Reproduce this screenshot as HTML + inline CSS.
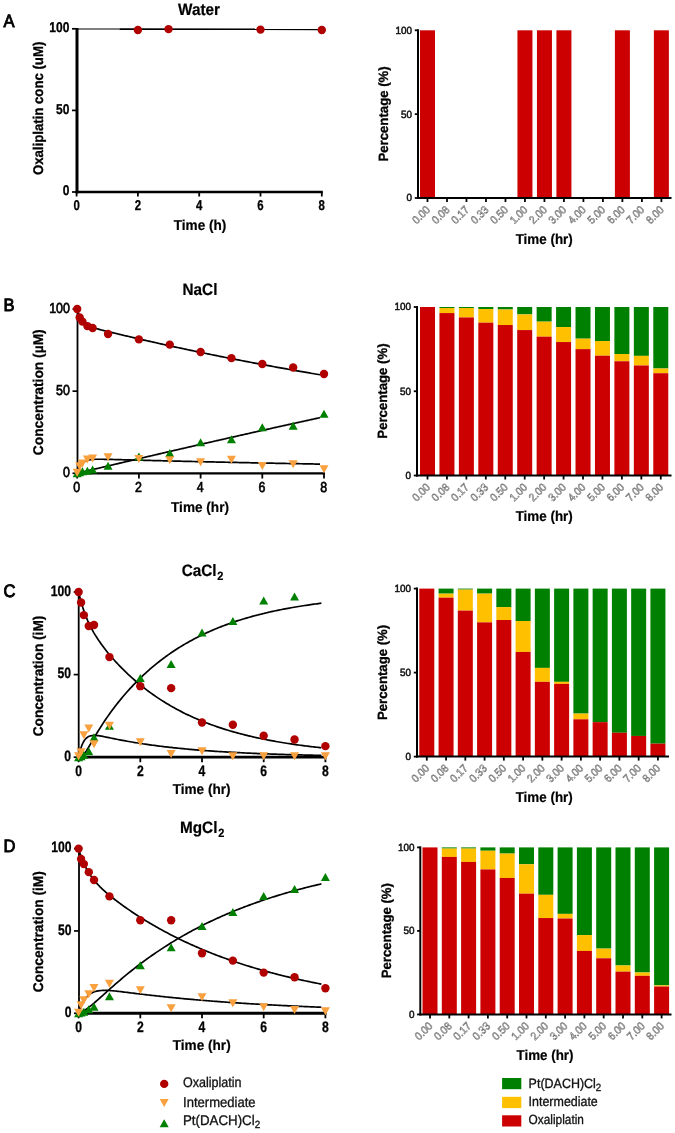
<!DOCTYPE html>
<html><head><meta charset="utf-8"><title>Oxaliplatin kinetics</title>
<style>
html,body{margin:0;padding:0;background:#fff;}
body{width:675px;height:1133px;overflow:hidden;}
svg{display:block;font-family:"Liberation Sans", sans-serif;will-change:transform;text-rendering:geometricPrecision;}
</style></head>
<body>
<svg width="675" height="1133" viewBox="0 0 675 1133">
<rect width="675" height="1133" fill="#fff"/>
<line x1="77" y1="28" x2="77" y2="193.3" stroke="#000" stroke-width="3"/>
<line x1="72" y1="192" x2="77" y2="192" stroke="#000" stroke-width="1.7"/>
<text transform="translate(69.4 195.4) scale(1 1.18)" font-size="12" font-weight="bold" text-anchor="end" fill="#000" stroke="#000" stroke-width="0.25">0</text>
<line x1="72" y1="110.4" x2="77" y2="110.4" stroke="#000" stroke-width="1.7"/>
<text transform="translate(69.4 113.8) scale(1 1.18)" font-size="12" font-weight="bold" text-anchor="end" fill="#000" stroke="#000" stroke-width="0.25">50</text>
<line x1="72" y1="28.8" x2="77" y2="28.8" stroke="#000" stroke-width="1.7"/>
<text transform="translate(69.4 32.2) scale(1 1.18)" font-size="12" font-weight="bold" text-anchor="end" fill="#000" stroke="#000" stroke-width="0.25">100</text>
<line x1="75.5" y1="192" x2="322.8" y2="192" stroke="#000" stroke-width="2.6"/>
<line x1="76.6" y1="192" x2="76.6" y2="196.5" stroke="#000" stroke-width="1.8"/>
<text transform="translate(76.6 209.9) scale(0.95 1.18)" font-size="12" font-weight="bold" text-anchor="middle" fill="#000" stroke="#000" stroke-width="0.25">0</text>
<line x1="137.9" y1="192" x2="137.9" y2="196.5" stroke="#000" stroke-width="1.8"/>
<text transform="translate(137.9 209.9) scale(0.95 1.18)" font-size="12" font-weight="bold" text-anchor="middle" fill="#000" stroke="#000" stroke-width="0.25">2</text>
<line x1="199.2" y1="192" x2="199.2" y2="196.5" stroke="#000" stroke-width="1.8"/>
<text transform="translate(199.2 209.9) scale(0.95 1.18)" font-size="12" font-weight="bold" text-anchor="middle" fill="#000" stroke="#000" stroke-width="0.25">4</text>
<line x1="260.5" y1="192" x2="260.5" y2="196.5" stroke="#000" stroke-width="1.8"/>
<text transform="translate(260.5 209.9) scale(0.95 1.18)" font-size="12" font-weight="bold" text-anchor="middle" fill="#000" stroke="#000" stroke-width="0.25">6</text>
<line x1="321.8" y1="192" x2="321.8" y2="196.5" stroke="#000" stroke-width="1.8"/>
<text transform="translate(321.8 209.9) scale(0.95 1.18)" font-size="12" font-weight="bold" text-anchor="middle" fill="#000" stroke="#000" stroke-width="0.25">8</text>
<text transform="translate(200.1 229.6) scale(1.015 1.07)" font-size="13.4" font-weight="bold" text-anchor="middle" fill="#000" stroke="#000" stroke-width="0.2">Time (h)</text>
<text transform="translate(43.2 108.4) rotate(-90) scale(0.985 1.05)" font-size="13.4" font-weight="bold" text-anchor="middle" fill="#000" stroke="#000" stroke-width="0.3">Oxaliplatin conc (uM)</text>
<text transform="translate(199 15) scale(1.02 1.1)" font-size="15" font-weight="bold" text-anchor="middle" fill="#000" stroke="#000" stroke-width="0.2">Water</text>
<text transform="translate(3.6 27.4) scale(0.94 1.02)" font-size="17.6" font-weight="normal" text-anchor="start" fill="#000" stroke="#000" stroke-width="0.9">A</text>
<line x1="77.6" y1="29" x2="119.51" y2="29" stroke="#000" stroke-width="1.0"/>
<line x1="119.51" y1="29.1" x2="321.8" y2="29.4" stroke="#000" stroke-width="1.6"/>
<circle cx="137.9" cy="29.94" r="4.2" fill="#B00000"/>
<circle cx="168.55" cy="29.13" r="4.2" fill="#B00000"/>
<circle cx="260.5" cy="29.62" r="4.2" fill="#B00000"/>
<circle cx="321.8" cy="29.94" r="4.2" fill="#B00000"/>
<line x1="77.5" y1="308.2" x2="77.5" y2="474.4" stroke="#000" stroke-width="1.8"/>
<line x1="72.5" y1="473.3" x2="77.5" y2="473.3" stroke="#000" stroke-width="1.7"/>
<text transform="translate(69.9 477.3) scale(1 1.16)" font-size="12.4" font-weight="normal" text-anchor="end" fill="#000" stroke="#000" stroke-width="0.6">0</text>
<line x1="72.5" y1="391.15" x2="77.5" y2="391.15" stroke="#000" stroke-width="1.7"/>
<text transform="translate(69.9 395.15) scale(1 1.16)" font-size="12.4" font-weight="normal" text-anchor="end" fill="#000" stroke="#000" stroke-width="0.6">50</text>
<line x1="72.5" y1="309" x2="77.5" y2="309" stroke="#000" stroke-width="1.7"/>
<text transform="translate(69.9 313) scale(1 1.16)" font-size="12.4" font-weight="normal" text-anchor="end" fill="#000" stroke="#000" stroke-width="0.6">100</text>
<line x1="76.6" y1="473.3" x2="325" y2="473.3" stroke="#000" stroke-width="2.2"/>
<line x1="77.2" y1="473.3" x2="77.2" y2="478.5" stroke="#000" stroke-width="1.8"/>
<text transform="translate(76.8 491.8) scale(1 1.16)" font-size="12.4" font-weight="normal" text-anchor="middle" fill="#000" stroke="#000" stroke-width="0.6">0</text>
<line x1="138.9" y1="473.3" x2="138.9" y2="478.5" stroke="#000" stroke-width="1.8"/>
<text transform="translate(138.5 491.8) scale(1 1.16)" font-size="12.4" font-weight="normal" text-anchor="middle" fill="#000" stroke="#000" stroke-width="0.6">2</text>
<line x1="200.6" y1="473.3" x2="200.6" y2="478.5" stroke="#000" stroke-width="1.8"/>
<text transform="translate(200.2 491.8) scale(1 1.16)" font-size="12.4" font-weight="normal" text-anchor="middle" fill="#000" stroke="#000" stroke-width="0.6">4</text>
<line x1="262.3" y1="473.3" x2="262.3" y2="478.5" stroke="#000" stroke-width="1.8"/>
<text transform="translate(261.9 491.8) scale(1 1.16)" font-size="12.4" font-weight="normal" text-anchor="middle" fill="#000" stroke="#000" stroke-width="0.6">6</text>
<line x1="324" y1="473.3" x2="324" y2="478.5" stroke="#000" stroke-width="1.8"/>
<text transform="translate(323.6 491.8) scale(1 1.16)" font-size="12.4" font-weight="normal" text-anchor="middle" fill="#000" stroke="#000" stroke-width="0.6">8</text>
<text transform="translate(200 511.7) scale(1.015 1.07)" font-size="13.4" font-weight="bold" text-anchor="middle" fill="#000" stroke="#000" stroke-width="0.2">Time (hr)</text>
<text transform="translate(43.2 392.25) rotate(-90) scale(1.03 1.05)" font-size="13.4" font-weight="bold" text-anchor="middle" fill="#000" stroke="#000" stroke-width="0.3">Concentration (&#181;M)</text>
<text transform="translate(200 295.2) scale(1.02 1.1)" font-size="15" font-weight="bold" text-anchor="middle" fill="#000" stroke="#000" stroke-width="0.2">NaCl</text>
<text transform="translate(3.6 311) scale(0.94 1.02)" font-size="17.6" font-weight="normal" text-anchor="start" fill="#000" stroke="#000" stroke-width="0.9">B</text>
<path d="M77.2 309 L78.72 314.15 L80.23 317.77 L81.75 320.36 L83.27 322.24 L84.79 323.65 L86.3 324.72 L87.82 325.58 L89.34 326.28 L90.86 326.88 L92.37 327.41 L93.89 327.89 L95.41 328.33 L96.93 328.76 L98.44 329.16 L99.96 329.56 L101.48 329.95 L103 330.33 L104.51 330.71 L106.03 331.08 L107.55 331.46 L109.07 331.83 L110.58 332.2 L112.1 332.56 L113.62 332.93 L115.14 333.29 L116.65 333.66 L118.17 334.02 L119.69 334.38 L121.21 334.75 L122.72 335.11 L124.24 335.46 L125.76 335.82 L127.28 336.18 L128.79 336.54 L130.31 336.89 L131.83 337.25 L133.35 337.6 L134.86 337.95 L136.38 338.3 L137.9 338.65 L139.41 339 L140.93 339.35 L142.45 339.7 L143.97 340.05 L145.48 340.4 L147 340.74 L148.52 341.09 L150.04 341.43 L151.55 341.77 L153.07 342.11 L154.59 342.45 L156.11 342.79 L157.62 343.13 L159.14 343.47 L160.66 343.81 L162.18 344.15 L163.69 344.48 L165.21 344.82 L166.73 345.15 L168.25 345.48 L169.76 345.81 L171.28 346.15 L172.8 346.48 L174.32 346.81 L175.83 347.13 L177.35 347.46 L178.87 347.79 L180.39 348.12 L181.9 348.44 L183.42 348.77 L184.94 349.09 L186.46 349.41 L187.97 349.73 L189.49 350.05 L191.01 350.38 L192.53 350.69 L194.04 351.01 L195.56 351.33 L197.08 351.65 L198.59 351.96 L200.11 352.28 L201.63 352.59 L203.15 352.91 L204.66 353.22 L206.18 353.53 L207.7 353.84 L209.22 354.15 L210.73 354.46 L212.25 354.77 L213.77 355.08 L215.29 355.39 L216.8 355.69 L218.32 356 L219.84 356.3 L221.36 356.61 L222.87 356.91 L224.39 357.21 L225.91 357.52 L227.43 357.82 L228.94 358.12 L230.46 358.42 L231.98 358.71 L233.5 359.01 L235.01 359.31 L236.53 359.61 L238.05 359.9 L239.57 360.2 L241.08 360.49 L242.6 360.78 L244.12 361.08 L245.64 361.37 L247.15 361.66 L248.67 361.95 L250.19 362.24 L251.7 362.53 L253.22 362.81 L254.74 363.1 L256.26 363.39 L257.77 363.67 L259.29 363.96 L260.81 364.24 L262.33 364.53 L263.84 364.81 L265.36 365.09 L266.88 365.37 L268.4 365.65 L269.91 365.93 L271.43 366.21 L272.95 366.49 L274.47 366.77 L275.98 367.04 L277.5 367.32 L279.02 367.59 L280.54 367.87 L282.05 368.14 L283.57 368.42 L285.09 368.69 L286.61 368.96 L288.12 369.23 L289.64 369.5 L291.16 369.77 L292.68 370.04 L294.19 370.31 L295.71 370.58 L297.23 370.84 L298.75 371.11 L300.26 371.38 L301.78 371.64 L303.3 371.91 L304.82 372.17 L306.33 372.43 L307.85 372.69 L309.37 372.95 L310.88 373.22 L312.4 373.48 L313.92 373.74 L315.44 373.99 L316.95 374.25 L318.47 374.51 L319.99 374.77" fill="none" stroke="#000" stroke-width="1.7" stroke-linejoin="round"/>
<path d="M77.2 473.3 L78.72 469.15 L80.23 466.18 L81.75 464.07 L83.27 462.57 L84.79 461.5 L86.3 460.75 L87.82 460.23 L89.34 459.86 L90.86 459.61 L92.37 459.45 L93.89 459.34 L95.41 459.27 L96.93 459.24 L98.44 459.23 L99.96 459.23 L101.48 459.24 L103 459.27 L104.51 459.29 L106.03 459.32 L107.55 459.36 L109.07 459.39 L110.58 459.43 L112.1 459.47 L113.62 459.51 L115.14 459.55 L116.65 459.59 L118.17 459.63 L119.69 459.67 L121.21 459.71 L122.72 459.75 L124.24 459.79 L125.76 459.83 L127.28 459.87 L128.79 459.91 L130.31 459.95 L131.83 459.99 L133.35 460.03 L134.86 460.07 L136.38 460.11 L137.9 460.15 L139.41 460.19 L140.93 460.23 L142.45 460.27 L143.97 460.3 L145.48 460.34 L147 460.38 L148.52 460.42 L150.04 460.46 L151.55 460.5 L153.07 460.54 L154.59 460.57 L156.11 460.61 L157.62 460.65 L159.14 460.69 L160.66 460.72 L162.18 460.76 L163.69 460.8 L165.21 460.84 L166.73 460.87 L168.25 460.91 L169.76 460.95 L171.28 460.98 L172.8 461.02 L174.32 461.06 L175.83 461.09 L177.35 461.13 L178.87 461.17 L180.39 461.2 L181.9 461.24 L183.42 461.28 L184.94 461.31 L186.46 461.35 L187.97 461.38 L189.49 461.42 L191.01 461.45 L192.53 461.49 L194.04 461.52 L195.56 461.56 L197.08 461.59 L198.59 461.63 L200.11 461.66 L201.63 461.7 L203.15 461.73 L204.66 461.77 L206.18 461.8 L207.7 461.84 L209.22 461.87 L210.73 461.9 L212.25 461.94 L213.77 461.97 L215.29 462.01 L216.8 462.04 L218.32 462.07 L219.84 462.11 L221.36 462.14 L222.87 462.17 L224.39 462.21 L225.91 462.24 L227.43 462.27 L228.94 462.31 L230.46 462.34 L231.98 462.37 L233.5 462.4 L235.01 462.44 L236.53 462.47 L238.05 462.5 L239.57 462.53 L241.08 462.56 L242.6 462.6 L244.12 462.63 L245.64 462.66 L247.15 462.69 L248.67 462.72 L250.19 462.76 L251.7 462.79 L253.22 462.82 L254.74 462.85 L256.26 462.88 L257.77 462.91 L259.29 462.94 L260.81 462.97 L262.33 463 L263.84 463.04 L265.36 463.07 L266.88 463.1 L268.4 463.13 L269.91 463.16 L271.43 463.19 L272.95 463.22 L274.47 463.25 L275.98 463.28 L277.5 463.31 L279.02 463.34 L280.54 463.37 L282.05 463.4 L283.57 463.43 L285.09 463.46 L286.61 463.48 L288.12 463.51 L289.64 463.54 L291.16 463.57 L292.68 463.6 L294.19 463.63 L295.71 463.66 L297.23 463.69 L298.75 463.72 L300.26 463.74 L301.78 463.77 L303.3 463.8 L304.82 463.83 L306.33 463.86 L307.85 463.89 L309.37 463.91 L310.88 463.94 L312.4 463.97 L313.92 464 L315.44 464.03 L316.95 464.05 L318.47 464.08 L319.99 464.11" fill="none" stroke="#000" stroke-width="1.7" stroke-linejoin="round"/>
<path d="M77.2 473.3 L78.72 472.94 L80.23 472.57 L81.75 472.21 L83.27 471.85 L84.79 471.48 L86.3 471.12 L87.82 470.76 L89.34 470.4 L90.86 470.04 L92.37 469.67 L93.89 469.31 L95.41 468.95 L96.93 468.59 L98.44 468.23 L99.96 467.87 L101.48 467.51 L103 467.15 L104.51 466.79 L106.03 466.43 L107.55 466.07 L109.07 465.71 L110.58 465.35 L112.1 464.99 L113.62 464.63 L115.14 464.27 L116.65 463.91 L118.17 463.55 L119.69 463.2 L121.21 462.84 L122.72 462.48 L124.24 462.12 L125.76 461.76 L127.28 461.41 L128.79 461.05 L130.31 460.69 L131.83 460.34 L133.35 459.98 L134.86 459.62 L136.38 459.27 L137.9 458.91 L139.41 458.56 L140.93 458.2 L142.45 457.85 L143.97 457.49 L145.48 457.14 L147 456.78 L148.52 456.43 L150.04 456.07 L151.55 455.72 L153.07 455.37 L154.59 455.01 L156.11 454.66 L157.62 454.3 L159.14 453.95 L160.66 453.6 L162.18 453.25 L163.69 452.89 L165.21 452.54 L166.73 452.19 L168.25 451.84 L169.76 451.49 L171.28 451.13 L172.8 450.78 L174.32 450.43 L175.83 450.08 L177.35 449.73 L178.87 449.38 L180.39 449.03 L181.9 448.68 L183.42 448.33 L184.94 447.98 L186.46 447.63 L187.97 447.28 L189.49 446.93 L191.01 446.58 L192.53 446.24 L194.04 445.89 L195.56 445.54 L197.08 445.19 L198.59 444.84 L200.11 444.49 L201.63 444.15 L203.15 443.8 L204.66 443.45 L206.18 443.11 L207.7 442.76 L209.22 442.41 L210.73 442.07 L212.25 441.72 L213.77 441.37 L215.29 441.03 L216.8 440.68 L218.32 440.34 L219.84 439.99 L221.36 439.65 L222.87 439.3 L224.39 438.96 L225.91 438.61 L227.43 438.27 L228.94 437.93 L230.46 437.58 L231.98 437.24 L233.5 436.9 L235.01 436.55 L236.53 436.21 L238.05 435.87 L239.57 435.53 L241.08 435.18 L242.6 434.84 L244.12 434.5 L245.64 434.16 L247.15 433.82 L248.67 433.47 L250.19 433.13 L251.7 432.79 L253.22 432.45 L254.74 432.11 L256.26 431.77 L257.77 431.43 L259.29 431.09 L260.81 430.75 L262.33 430.41 L263.84 430.07 L265.36 429.73 L266.88 429.39 L268.4 429.06 L269.91 428.72 L271.43 428.38 L272.95 428.04 L274.47 427.7 L275.98 427.36 L277.5 427.03 L279.02 426.69 L280.54 426.35 L282.05 426.02 L283.57 425.68 L285.09 425.34 L286.61 425.01 L288.12 424.67 L289.64 424.33 L291.16 424 L292.68 423.66 L294.19 423.33 L295.71 422.99 L297.23 422.66 L298.75 422.32 L300.26 421.99 L301.78 421.65 L303.3 421.32 L304.82 420.99 L306.33 420.65 L307.85 420.32 L309.37 419.99 L310.88 419.65 L312.4 419.32 L313.92 418.99 L315.44 418.65 L316.95 418.32 L318.47 417.99 L319.99 417.66" fill="none" stroke="#000" stroke-width="1.7" stroke-linejoin="round"/>
<path d="M77.2 469.3L81.7 477.3L72.7 477.3Z" fill="#008000"/>
<path d="M79.67 468.31L84.17 476.31L75.17 476.31Z" fill="#008000"/>
<path d="M82.44 467.33L86.94 475.33L77.94 475.33Z" fill="#008000"/>
<path d="M87.38 466.67L91.88 474.67L82.88 474.67Z" fill="#008000"/>
<path d="M92.62 465.52L97.12 473.52L88.12 473.52Z" fill="#008000"/>
<path d="M108.05 461.74L112.55 469.74L103.55 469.74Z" fill="#008000"/>
<path d="M138.9 452.54L143.4 460.54L134.4 460.54Z" fill="#008000"/>
<path d="M169.75 448.93L174.25 456.93L165.25 456.93Z" fill="#008000"/>
<path d="M200.6 438.25L205.1 446.25L196.1 446.25Z" fill="#008000"/>
<path d="M231.45 435.29L235.95 443.29L226.95 443.29Z" fill="#008000"/>
<path d="M262.3 423.3L266.8 431.3L257.8 431.3Z" fill="#008000"/>
<path d="M293.15 421.82L297.65 429.82L288.65 429.82Z" fill="#008000"/>
<path d="M324 409.82L328.5 417.82L319.5 417.82Z" fill="#008000"/>
<path d="M72.7 468.81L81.7 468.81L77.2 476.81Z" fill="#F9A03F"/>
<path d="M75.17 462.24L84.17 462.24L79.67 470.24Z" fill="#F9A03F"/>
<path d="M77.94 459.44L86.94 459.44L82.44 467.44Z" fill="#F9A03F"/>
<path d="M82.88 455.5L91.88 455.5L87.38 463.5Z" fill="#F9A03F"/>
<path d="M88.12 454.51L97.12 454.51L92.62 462.51Z" fill="#F9A03F"/>
<path d="M103.55 453.2L112.55 453.2L108.05 461.2Z" fill="#F9A03F"/>
<path d="M134.4 455.01L143.4 455.01L138.9 463.01Z" fill="#F9A03F"/>
<path d="M165.25 456.32L174.25 456.32L169.75 464.32Z" fill="#F9A03F"/>
<path d="M196.1 458.29L205.1 458.29L200.6 466.29Z" fill="#F9A03F"/>
<path d="M226.95 455.66L235.95 455.66L231.45 463.66Z" fill="#F9A03F"/>
<path d="M257.8 461.91L266.8 461.91L262.3 469.91Z" fill="#F9A03F"/>
<path d="M288.65 460.26L297.65 460.26L293.15 468.26Z" fill="#F9A03F"/>
<path d="M319.5 465.36L328.5 465.36L324 473.36Z" fill="#F9A03F"/>
<circle cx="77.2" cy="309" r="4.2" fill="#B00000"/>
<circle cx="79.67" cy="317.54" r="4.2" fill="#B00000"/>
<circle cx="82.44" cy="321.65" r="4.2" fill="#B00000"/>
<circle cx="87.38" cy="326.09" r="4.2" fill="#B00000"/>
<circle cx="92.62" cy="328.06" r="4.2" fill="#B00000"/>
<circle cx="108.05" cy="333.97" r="4.2" fill="#B00000"/>
<circle cx="138.9" cy="339.4" r="4.2" fill="#B00000"/>
<circle cx="169.75" cy="344.65" r="4.2" fill="#B00000"/>
<circle cx="200.6" cy="352.05" r="4.2" fill="#B00000"/>
<circle cx="231.45" cy="358.13" r="4.2" fill="#B00000"/>
<circle cx="262.3" cy="364.04" r="4.2" fill="#B00000"/>
<circle cx="293.15" cy="367.49" r="4.2" fill="#B00000"/>
<circle cx="324" cy="374.06" r="4.2" fill="#B00000"/>
<line x1="78.7" y1="591.2" x2="78.7" y2="758.6" stroke="#000" stroke-width="1.8"/>
<line x1="73.7" y1="757.2" x2="78.7" y2="757.2" stroke="#000" stroke-width="1.7"/>
<text transform="translate(71.1 761) scale(0.98 1.22)" font-size="12.4" font-weight="bold" text-anchor="end" fill="#000" stroke="#000" stroke-width="0.25">0</text>
<line x1="73.7" y1="674.6" x2="78.7" y2="674.6" stroke="#000" stroke-width="1.7"/>
<text transform="translate(71.1 678.4) scale(0.98 1.22)" font-size="12.4" font-weight="bold" text-anchor="end" fill="#000" stroke="#000" stroke-width="0.25">50</text>
<line x1="73.7" y1="592" x2="78.7" y2="592" stroke="#000" stroke-width="1.7"/>
<text transform="translate(71.1 595.8) scale(0.98 1.22)" font-size="12.4" font-weight="bold" text-anchor="end" fill="#000" stroke="#000" stroke-width="0.25">100</text>
<line x1="77.8" y1="757.2" x2="326.4" y2="757.2" stroke="#000" stroke-width="2.8"/>
<line x1="78.6" y1="757.2" x2="78.6" y2="762.2" stroke="#000" stroke-width="1.8"/>
<text transform="translate(78.6 775.6) scale(0.98 1.22)" font-size="12.4" font-weight="bold" text-anchor="middle" fill="#000" stroke="#000" stroke-width="0.25">0</text>
<line x1="140.3" y1="757.2" x2="140.3" y2="762.2" stroke="#000" stroke-width="1.8"/>
<text transform="translate(140.3 775.6) scale(0.98 1.22)" font-size="12.4" font-weight="bold" text-anchor="middle" fill="#000" stroke="#000" stroke-width="0.25">2</text>
<line x1="202" y1="757.2" x2="202" y2="762.2" stroke="#000" stroke-width="1.8"/>
<text transform="translate(202 775.6) scale(0.98 1.22)" font-size="12.4" font-weight="bold" text-anchor="middle" fill="#000" stroke="#000" stroke-width="0.25">4</text>
<line x1="263.7" y1="757.2" x2="263.7" y2="762.2" stroke="#000" stroke-width="1.8"/>
<text transform="translate(263.7 775.6) scale(0.98 1.22)" font-size="12.4" font-weight="bold" text-anchor="middle" fill="#000" stroke="#000" stroke-width="0.25">6</text>
<line x1="325.4" y1="757.2" x2="325.4" y2="762.2" stroke="#000" stroke-width="1.8"/>
<text transform="translate(325.4 775.6) scale(0.98 1.22)" font-size="12.4" font-weight="bold" text-anchor="middle" fill="#000" stroke="#000" stroke-width="0.25">8</text>
<text transform="translate(201.6 794.4) scale(1.015 1.07)" font-size="13.4" font-weight="bold" text-anchor="middle" fill="#000" stroke="#000" stroke-width="0.2">Time (hr)</text>
<text transform="translate(43.2 676) rotate(-90) scale(1.02 1.05)" font-size="13.4" font-weight="bold" text-anchor="middle" fill="#000" stroke="#000" stroke-width="0.3">Concentration (iM)</text>
<text transform="translate(202.6 576.2) scale(1.02 1.1)" font-size="15" font-weight="bold" text-anchor="middle" fill="#000" stroke="#000" stroke-width="0.2">CaCl<tspan font-size="10.8" dx="0.8" dy="3.6">2</tspan></text>
<text transform="translate(3.6 597.1) scale(0.94 1.02)" font-size="17.6" font-weight="normal" text-anchor="start" fill="#000" stroke="#000" stroke-width="0.9">C</text>
<path d="M78.6 592 L80.12 598.25 L81.63 603.75 L83.15 608.64 L84.67 613.02 L86.19 616.98 L87.7 620.6 L89.22 623.92 L90.74 627 L92.26 629.87 L93.77 632.57 L95.29 635.13 L96.81 637.56 L98.33 639.88 L99.84 642.1 L101.36 644.25 L102.88 646.32 L104.4 648.33 L105.91 650.27 L107.43 652.17 L108.95 654.02 L110.47 655.82 L111.98 657.58 L113.5 659.31 L115.02 661 L116.54 662.65 L118.05 664.27 L119.57 665.86 L121.09 667.42 L122.61 668.95 L124.12 670.45 L125.64 671.93 L127.16 673.38 L128.68 674.8 L130.19 676.2 L131.71 677.57 L133.23 678.92 L134.75 680.25 L136.26 681.55 L137.78 682.84 L139.3 684.1 L140.81 685.33 L142.33 686.55 L143.85 687.75 L145.37 688.92 L146.88 690.08 L148.4 691.21 L149.92 692.33 L151.44 693.43 L152.95 694.51 L154.47 695.57 L155.99 696.61 L157.51 697.64 L159.02 698.65 L160.54 699.64 L162.06 700.61 L163.58 701.57 L165.09 702.51 L166.61 703.44 L168.13 704.35 L169.65 705.24 L171.16 706.12 L172.68 706.98 L174.2 707.83 L175.72 708.67 L177.23 709.49 L178.75 710.3 L180.27 711.09 L181.79 711.87 L183.3 712.64 L184.82 713.39 L186.34 714.14 L187.86 714.86 L189.37 715.58 L190.89 716.28 L192.41 716.98 L193.93 717.66 L195.44 718.33 L196.96 718.98 L198.48 719.63 L199.99 720.27 L201.51 720.89 L203.03 721.51 L204.55 722.11 L206.06 722.7 L207.58 723.29 L209.1 723.86 L210.62 724.43 L212.13 724.98 L213.65 725.53 L215.17 726.06 L216.69 726.59 L218.2 727.11 L219.72 727.62 L221.24 728.12 L222.76 728.61 L224.27 729.09 L225.79 729.57 L227.31 730.04 L228.83 730.5 L230.34 730.95 L231.86 731.39 L233.38 731.83 L234.9 732.26 L236.41 732.68 L237.93 733.1 L239.45 733.5 L240.97 733.9 L242.48 734.3 L244 734.69 L245.52 735.07 L247.04 735.44 L248.55 735.81 L250.07 736.17 L251.59 736.53 L253.1 736.88 L254.62 737.22 L256.14 737.56 L257.66 737.89 L259.17 738.22 L260.69 738.54 L262.21 738.86 L263.73 739.17 L265.24 739.47 L266.76 739.77 L268.28 740.07 L269.8 740.36 L271.31 740.64 L272.83 740.92 L274.35 741.2 L275.87 741.47 L277.38 741.73 L278.9 742 L280.42 742.25 L281.94 742.51 L283.45 742.75 L284.97 743 L286.49 743.24 L288.01 743.48 L289.52 743.71 L291.04 743.94 L292.56 744.16 L294.08 744.38 L295.59 744.6 L297.11 744.81 L298.63 745.02 L300.15 745.23 L301.66 745.43 L303.18 745.63 L304.7 745.83 L306.22 746.02 L307.73 746.21 L309.25 746.39 L310.77 746.58 L312.28 746.76 L313.8 746.93 L315.32 747.11 L316.84 747.28 L318.35 747.44 L319.87 747.61 L321.39 747.77" fill="none" stroke="#000" stroke-width="1.7" stroke-linejoin="round"/>
<path d="M78.6 757.2 L80.12 750.69 L81.63 745.94 L83.15 742.49 L84.67 740.02 L86.19 738.28 L87.7 737.09 L89.22 736.29 L90.74 735.8 L92.26 735.53 L93.77 735.42 L95.29 735.44 L96.81 735.54 L98.33 735.71 L99.84 735.93 L101.36 736.18 L102.88 736.46 L104.4 736.75 L105.91 737.05 L107.43 737.35 L108.95 737.67 L110.47 737.98 L111.98 738.29 L113.5 738.6 L115.02 738.91 L116.54 739.21 L118.05 739.51 L119.57 739.81 L121.09 740.1 L122.61 740.39 L124.12 740.67 L125.64 740.95 L127.16 741.23 L128.68 741.5 L130.19 741.76 L131.71 742.03 L133.23 742.28 L134.75 742.54 L136.26 742.78 L137.78 743.03 L139.3 743.27 L140.81 743.51 L142.33 743.74 L143.85 743.97 L145.37 744.19 L146.88 744.41 L148.4 744.63 L149.92 744.84 L151.44 745.05 L152.95 745.26 L154.47 745.46 L155.99 745.66 L157.51 745.86 L159.02 746.05 L160.54 746.24 L162.06 746.42 L163.58 746.61 L165.09 746.79 L166.61 746.96 L168.13 747.14 L169.65 747.31 L171.16 747.47 L172.68 747.64 L174.2 747.8 L175.72 747.96 L177.23 748.12 L178.75 748.27 L180.27 748.42 L181.79 748.57 L183.3 748.72 L184.82 748.86 L186.34 749 L187.86 749.14 L189.37 749.28 L190.89 749.41 L192.41 749.55 L193.93 749.68 L195.44 749.8 L196.96 749.93 L198.48 750.05 L199.99 750.17 L201.51 750.29 L203.03 750.41 L204.55 750.53 L206.06 750.64 L207.58 750.75 L209.1 750.86 L210.62 750.97 L212.13 751.07 L213.65 751.18 L215.17 751.28 L216.69 751.38 L218.2 751.48 L219.72 751.58 L221.24 751.67 L222.76 751.76 L224.27 751.86 L225.79 751.95 L227.31 752.04 L228.83 752.12 L230.34 752.21 L231.86 752.3 L233.38 752.38 L234.9 752.46 L236.41 752.54 L237.93 752.62 L239.45 752.7 L240.97 752.77 L242.48 752.85 L244 752.92 L245.52 753 L247.04 753.07 L248.55 753.14 L250.07 753.21 L251.59 753.27 L253.1 753.34 L254.62 753.41 L256.14 753.47 L257.66 753.53 L259.17 753.6 L260.69 753.66 L262.21 753.72 L263.73 753.78 L265.24 753.83 L266.76 753.89 L268.28 753.95 L269.8 754 L271.31 754.06 L272.83 754.11 L274.35 754.16 L275.87 754.21 L277.38 754.26 L278.9 754.31 L280.42 754.36 L281.94 754.41 L283.45 754.46 L284.97 754.51 L286.49 754.55 L288.01 754.6 L289.52 754.64 L291.04 754.68 L292.56 754.73 L294.08 754.77 L295.59 754.81 L297.11 754.85 L298.63 754.89 L300.15 754.93 L301.66 754.97 L303.18 755.01 L304.7 755.04 L306.22 755.08 L307.73 755.12 L309.25 755.15 L310.77 755.19 L312.28 755.22 L313.8 755.25 L315.32 755.29 L316.84 755.32 L318.35 755.35 L319.87 755.38 L321.39 755.41" fill="none" stroke="#000" stroke-width="1.7" stroke-linejoin="round"/>
<path d="M78.6 757.2 L80.12 757.46 L81.63 756.71 L83.15 755.27 L84.67 753.35 L86.19 751.13 L87.7 748.72 L89.22 746.19 L90.74 743.6 L92.26 741 L93.77 738.4 L95.29 735.83 L96.81 733.3 L98.33 730.81 L99.84 728.37 L101.36 725.97 L102.88 723.63 L104.4 721.33 L105.91 719.08 L107.43 716.87 L108.95 714.72 L110.47 712.6 L111.98 710.53 L113.5 708.49 L115.02 706.5 L116.54 704.54 L118.05 702.62 L119.57 700.73 L121.09 698.88 L122.61 697.06 L124.12 695.27 L125.64 693.52 L127.16 691.8 L128.68 690.1 L130.19 688.44 L131.71 686.8 L133.23 685.19 L134.75 683.61 L136.26 682.06 L137.78 680.54 L139.3 679.04 L140.81 677.56 L142.33 676.11 L143.85 674.69 L145.37 673.29 L146.88 671.91 L148.4 670.56 L149.92 669.23 L151.44 667.92 L152.95 666.63 L154.47 665.37 L155.99 664.13 L157.51 662.91 L159.02 661.71 L160.54 660.53 L162.06 659.37 L163.58 658.22 L165.09 657.1 L166.61 656 L168.13 654.92 L169.65 653.85 L171.16 652.81 L172.68 651.78 L174.2 650.76 L175.72 649.77 L177.23 648.79 L178.75 647.83 L180.27 646.88 L181.79 645.95 L183.3 645.04 L184.82 644.14 L186.34 643.26 L187.86 642.39 L189.37 641.54 L190.89 640.7 L192.41 639.88 L193.93 639.07 L195.44 638.27 L196.96 637.49 L198.48 636.72 L199.99 635.96 L201.51 635.21 L203.03 634.48 L204.55 633.76 L206.06 633.06 L207.58 632.36 L209.1 631.68 L210.62 631.01 L212.13 630.35 L213.65 629.7 L215.17 629.06 L216.69 628.43 L218.2 627.81 L219.72 627.21 L221.24 626.61 L222.76 626.03 L224.27 625.45 L225.79 624.88 L227.31 624.33 L228.83 623.78 L230.34 623.24 L231.86 622.71 L233.38 622.19 L234.9 621.68 L236.41 621.18 L237.93 620.68 L239.45 620.2 L240.97 619.72 L242.48 619.25 L244 618.79 L245.52 618.34 L247.04 617.89 L248.55 617.45 L250.07 617.02 L251.59 616.6 L253.1 616.18 L254.62 615.77 L256.14 615.37 L257.66 614.97 L259.17 614.59 L260.69 614.2 L262.21 613.83 L263.73 613.46 L265.24 613.09 L266.76 612.74 L268.28 612.39 L269.8 612.04 L271.31 611.7 L272.83 611.37 L274.35 611.04 L275.87 610.72 L277.38 610.4 L278.9 610.09 L280.42 609.78 L281.94 609.48 L283.45 609.19 L284.97 608.9 L286.49 608.61 L288.01 608.33 L289.52 608.05 L291.04 607.78 L292.56 607.51 L294.08 607.25 L295.59 606.99 L297.11 606.74 L298.63 606.49 L300.15 606.24 L301.66 606 L303.18 605.77 L304.7 605.53 L306.22 605.3 L307.73 605.08 L309.25 604.86 L310.77 604.64 L312.28 604.42 L313.8 604.21 L315.32 604.01 L316.84 603.8 L318.35 603.6 L319.87 603.41 L321.39 603.21" fill="none" stroke="#000" stroke-width="1.7" stroke-linejoin="round"/>
<path d="M78.6 753.2L83.1 761.2L74.1 761.2Z" fill="#008000"/>
<path d="M81.07 752.37L85.57 760.37L76.57 760.37Z" fill="#008000"/>
<path d="M83.84 750.72L88.34 758.72L79.34 758.72Z" fill="#008000"/>
<path d="M88.78 747.25L93.28 755.25L84.28 755.25Z" fill="#008000"/>
<path d="M94.02 733.21L98.52 741.21L89.52 741.21Z" fill="#008000"/>
<path d="M109.45 721.81L113.95 729.81L104.95 729.81Z" fill="#008000"/>
<path d="M140.3 674.07L144.8 682.07L135.8 682.07Z" fill="#008000"/>
<path d="M171.15 660.03L175.65 668.03L166.65 668.03Z" fill="#008000"/>
<path d="M202 628.47L206.5 636.47L197.5 636.47Z" fill="#008000"/>
<path d="M232.85 617.08L237.35 625.08L228.35 625.08Z" fill="#008000"/>
<path d="M263.7 596.59L268.2 604.59L259.2 604.59Z" fill="#008000"/>
<path d="M294.55 592.46L299.05 600.46L290.05 600.46Z" fill="#008000"/>
<path d="M74.1 752.37L83.1 752.37L78.6 760.37Z" fill="#F9A03F"/>
<path d="M76.57 748.24L85.57 748.24L81.07 756.24Z" fill="#F9A03F"/>
<path d="M79.34 731.23L88.34 731.23L83.84 739.23Z" fill="#F9A03F"/>
<path d="M84.28 724.62L93.28 724.62L88.78 732.62Z" fill="#F9A03F"/>
<path d="M89.52 740.15L98.52 740.15L94.02 748.15Z" fill="#F9A03F"/>
<path d="M104.95 721.81L113.95 721.81L109.45 729.81Z" fill="#F9A03F"/>
<path d="M135.8 738.33L144.8 738.33L140.3 746.33Z" fill="#F9A03F"/>
<path d="M166.65 749.9L175.65 749.9L171.15 757.9Z" fill="#F9A03F"/>
<path d="M197.5 747.25L206.5 747.25L202 755.25Z" fill="#F9A03F"/>
<path d="M228.35 752.37L237.35 752.37L232.85 760.37Z" fill="#F9A03F"/>
<path d="M259.2 752.37L268.2 752.37L263.7 760.37Z" fill="#F9A03F"/>
<path d="M290.05 752.37L299.05 752.37L294.55 760.37Z" fill="#F9A03F"/>
<path d="M320.9 752.37L329.9 752.37L325.4 760.37Z" fill="#F9A03F"/>
<circle cx="78.6" cy="592" r="4.2" fill="#B00000"/>
<circle cx="81.07" cy="602.57" r="4.2" fill="#B00000"/>
<circle cx="83.84" cy="615.13" r="4.2" fill="#B00000"/>
<circle cx="88.78" cy="626.03" r="4.2" fill="#B00000"/>
<circle cx="94.02" cy="625.04" r="4.2" fill="#B00000"/>
<circle cx="109.45" cy="657.09" r="4.2" fill="#B00000"/>
<circle cx="140.3" cy="686.16" r="4.2" fill="#B00000"/>
<circle cx="171.15" cy="688.15" r="4.2" fill="#B00000"/>
<circle cx="202" cy="722.51" r="4.2" fill="#B00000"/>
<circle cx="232.85" cy="724.82" r="4.2" fill="#B00000"/>
<circle cx="263.7" cy="735.72" r="4.2" fill="#B00000"/>
<circle cx="294.55" cy="739.52" r="4.2" fill="#B00000"/>
<circle cx="325.4" cy="746.13" r="4.2" fill="#B00000"/>
<line x1="79" y1="847.8" x2="79" y2="1014.8" stroke="#000" stroke-width="1.8"/>
<line x1="74" y1="1013.3" x2="79" y2="1013.3" stroke="#000" stroke-width="1.7"/>
<text transform="translate(71.4 1017.1) scale(0.98 1.22)" font-size="12.4" font-weight="bold" text-anchor="end" fill="#000" stroke="#000" stroke-width="0.25">0</text>
<line x1="74" y1="930.95" x2="79" y2="930.95" stroke="#000" stroke-width="1.7"/>
<text transform="translate(71.4 934.75) scale(0.98 1.22)" font-size="12.4" font-weight="bold" text-anchor="end" fill="#000" stroke="#000" stroke-width="0.25">50</text>
<line x1="74" y1="848.6" x2="79" y2="848.6" stroke="#000" stroke-width="1.7"/>
<text transform="translate(71.4 852.4) scale(0.98 1.22)" font-size="12.4" font-weight="bold" text-anchor="end" fill="#000" stroke="#000" stroke-width="0.25">100</text>
<line x1="78.1" y1="1013.3" x2="326.4" y2="1013.3" stroke="#000" stroke-width="3.0"/>
<line x1="78.6" y1="1013.3" x2="78.6" y2="1018.3" stroke="#000" stroke-width="1.8"/>
<text transform="translate(78.6 1031.9) scale(0.98 1.22)" font-size="12.4" font-weight="bold" text-anchor="middle" fill="#000" stroke="#000" stroke-width="0.25">0</text>
<line x1="140.3" y1="1013.3" x2="140.3" y2="1018.3" stroke="#000" stroke-width="1.8"/>
<text transform="translate(140.3 1031.9) scale(0.98 1.22)" font-size="12.4" font-weight="bold" text-anchor="middle" fill="#000" stroke="#000" stroke-width="0.25">2</text>
<line x1="202" y1="1013.3" x2="202" y2="1018.3" stroke="#000" stroke-width="1.8"/>
<text transform="translate(202 1031.9) scale(0.98 1.22)" font-size="12.4" font-weight="bold" text-anchor="middle" fill="#000" stroke="#000" stroke-width="0.25">4</text>
<line x1="263.7" y1="1013.3" x2="263.7" y2="1018.3" stroke="#000" stroke-width="1.8"/>
<text transform="translate(263.7 1031.9) scale(0.98 1.22)" font-size="12.4" font-weight="bold" text-anchor="middle" fill="#000" stroke="#000" stroke-width="0.25">6</text>
<line x1="325.4" y1="1013.3" x2="325.4" y2="1018.3" stroke="#000" stroke-width="1.8"/>
<text transform="translate(325.4 1031.9) scale(0.98 1.22)" font-size="12.4" font-weight="bold" text-anchor="middle" fill="#000" stroke="#000" stroke-width="0.25">8</text>
<text transform="translate(201.7 1050.4) scale(1.015 1.07)" font-size="13.4" font-weight="bold" text-anchor="middle" fill="#000" stroke="#000" stroke-width="0.2">Time (hr)</text>
<text transform="translate(43.2 931.75) rotate(-90) scale(1.025 1.05)" font-size="13.4" font-weight="bold" text-anchor="middle" fill="#000" stroke="#000" stroke-width="0.3">Concentration (iM)</text>
<text transform="translate(202.2 832.6) scale(1.02 1.1)" font-size="15" font-weight="bold" text-anchor="middle" fill="#000" stroke="#000" stroke-width="0.2">MgCl<tspan font-size="10.8" dx="0.8" dy="3.6">2</tspan></text>
<text transform="translate(3.6 852.4) scale(0.94 1.02)" font-size="17.6" font-weight="normal" text-anchor="start" fill="#000" stroke="#000" stroke-width="0.9">D</text>
<path d="M78.6 848.6 L80.12 853.6 L81.63 857.97 L83.15 861.81 L84.67 865.22 L86.19 868.26 L87.7 871.01 L89.22 873.5 L90.74 875.78 L92.26 877.88 L93.77 879.84 L95.29 881.67 L96.81 883.39 L98.33 885.03 L99.84 886.59 L101.36 888.08 L102.88 889.52 L104.4 890.91 L105.91 892.26 L107.43 893.57 L108.95 894.85 L110.47 896.1 L111.98 897.33 L113.5 898.53 L115.02 899.72 L116.54 900.88 L118.05 902.02 L119.57 903.15 L121.09 904.27 L122.61 905.37 L124.12 906.45 L125.64 907.52 L127.16 908.58 L128.68 909.63 L130.19 910.66 L131.71 911.69 L133.23 912.7 L134.75 913.7 L136.26 914.7 L137.78 915.68 L139.3 916.65 L140.81 917.61 L142.33 918.56 L143.85 919.5 L145.37 920.43 L146.88 921.36 L148.4 922.27 L149.92 923.17 L151.44 924.07 L152.95 924.95 L154.47 925.83 L155.99 926.7 L157.51 927.56 L159.02 928.41 L160.54 929.25 L162.06 930.09 L163.58 930.91 L165.09 931.73 L166.61 932.54 L168.13 933.34 L169.65 934.14 L171.16 934.92 L172.68 935.7 L174.2 936.47 L175.72 937.23 L177.23 937.99 L178.75 938.74 L180.27 939.48 L181.79 940.21 L183.3 940.93 L184.82 941.65 L186.34 942.36 L187.86 943.07 L189.37 943.76 L190.89 944.46 L192.41 945.14 L193.93 945.81 L195.44 946.48 L196.96 947.15 L198.48 947.8 L199.99 948.45 L201.51 949.1 L203.03 949.74 L204.55 950.37 L206.06 950.99 L207.58 951.61 L209.1 952.22 L210.62 952.83 L212.13 953.43 L213.65 954.02 L215.17 954.61 L216.69 955.19 L218.2 955.77 L219.72 956.34 L221.24 956.91 L222.76 957.47 L224.27 958.02 L225.79 958.57 L227.31 959.11 L228.83 959.65 L230.34 960.18 L231.86 960.71 L233.38 961.23 L234.9 961.75 L236.41 962.26 L237.93 962.77 L239.45 963.27 L240.97 963.77 L242.48 964.26 L244 964.74 L245.52 965.23 L247.04 965.7 L248.55 966.18 L250.07 966.64 L251.59 967.11 L253.1 967.56 L254.62 968.02 L256.14 968.47 L257.66 968.91 L259.17 969.35 L260.69 969.79 L262.21 970.22 L263.73 970.65 L265.24 971.07 L266.76 971.49 L268.28 971.91 L269.8 972.32 L271.31 972.72 L272.83 973.13 L274.35 973.53 L275.87 973.92 L277.38 974.31 L278.9 974.7 L280.42 975.08 L281.94 975.46 L283.45 975.84 L284.97 976.21 L286.49 976.58 L288.01 976.94 L289.52 977.3 L291.04 977.66 L292.56 978.01 L294.08 978.36 L295.59 978.71 L297.11 979.05 L298.63 979.39 L300.15 979.73 L301.66 980.06 L303.18 980.39 L304.7 980.72 L306.22 981.04 L307.73 981.36 L309.25 981.68 L310.77 981.99 L312.28 982.3 L313.8 982.61 L315.32 982.92 L316.84 983.22 L318.35 983.52 L319.87 983.81 L321.39 984.11" fill="none" stroke="#000" stroke-width="1.7" stroke-linejoin="round"/>
<path d="M78.6 1013.3 L80.12 1008.85 L81.63 1005.17 L83.15 1002.15 L84.67 999.67 L86.19 997.64 L87.7 995.99 L89.22 994.65 L90.74 993.57 L92.26 992.72 L93.77 992.04 L95.29 991.51 L96.81 991.12 L98.33 990.82 L99.84 990.61 L101.36 990.48 L102.88 990.4 L104.4 990.38 L105.91 990.39 L107.43 990.44 L108.95 990.52 L110.47 990.62 L111.98 990.74 L113.5 990.87 L115.02 991.02 L116.54 991.18 L118.05 991.34 L119.57 991.51 L121.09 991.69 L122.61 991.87 L124.12 992.05 L125.64 992.24 L127.16 992.42 L128.68 992.61 L130.19 992.8 L131.71 992.99 L133.23 993.18 L134.75 993.36 L136.26 993.55 L137.78 993.73 L139.3 993.92 L140.81 994.1 L142.33 994.28 L143.85 994.47 L145.37 994.65 L146.88 994.82 L148.4 995 L149.92 995.18 L151.44 995.35 L152.95 995.52 L154.47 995.69 L155.99 995.86 L157.51 996.03 L159.02 996.19 L160.54 996.36 L162.06 996.52 L163.58 996.68 L165.09 996.84 L166.61 997 L168.13 997.16 L169.65 997.31 L171.16 997.47 L172.68 997.62 L174.2 997.77 L175.72 997.92 L177.23 998.07 L178.75 998.22 L180.27 998.36 L181.79 998.5 L183.3 998.65 L184.82 998.79 L186.34 998.93 L187.86 999.07 L189.37 999.2 L190.89 999.34 L192.41 999.47 L193.93 999.61 L195.44 999.74 L196.96 999.87 L198.48 1000 L199.99 1000.13 L201.51 1000.25 L203.03 1000.38 L204.55 1000.5 L206.06 1000.63 L207.58 1000.75 L209.1 1000.87 L210.62 1000.99 L212.13 1001.11 L213.65 1001.23 L215.17 1001.34 L216.69 1001.46 L218.2 1001.57 L219.72 1001.68 L221.24 1001.8 L222.76 1001.91 L224.27 1002.02 L225.79 1002.13 L227.31 1002.23 L228.83 1002.34 L230.34 1002.45 L231.86 1002.55 L233.38 1002.65 L234.9 1002.76 L236.41 1002.86 L237.93 1002.96 L239.45 1003.06 L240.97 1003.16 L242.48 1003.25 L244 1003.35 L245.52 1003.45 L247.04 1003.54 L248.55 1003.64 L250.07 1003.73 L251.59 1003.82 L253.1 1003.91 L254.62 1004 L256.14 1004.09 L257.66 1004.18 L259.17 1004.27 L260.69 1004.36 L262.21 1004.44 L263.73 1004.53 L265.24 1004.61 L266.76 1004.7 L268.28 1004.78 L269.8 1004.86 L271.31 1004.94 L272.83 1005.02 L274.35 1005.1 L275.87 1005.18 L277.38 1005.26 L278.9 1005.34 L280.42 1005.41 L281.94 1005.49 L283.45 1005.57 L284.97 1005.64 L286.49 1005.71 L288.01 1005.79 L289.52 1005.86 L291.04 1005.93 L292.56 1006 L294.08 1006.07 L295.59 1006.14 L297.11 1006.21 L298.63 1006.28 L300.15 1006.35 L301.66 1006.41 L303.18 1006.48 L304.7 1006.55 L306.22 1006.61 L307.73 1006.67 L309.25 1006.74 L310.77 1006.8 L312.28 1006.86 L313.8 1006.93 L315.32 1006.99 L316.84 1007.05 L318.35 1007.11 L319.87 1007.17 L321.39 1007.23" fill="none" stroke="#000" stroke-width="1.7" stroke-linejoin="round"/>
<path d="M78.6 1013.3 L80.12 1012.76 L81.63 1012.06 L83.15 1011.24 L84.67 1010.32 L86.19 1009.3 L87.7 1008.21 L89.22 1007.05 L90.74 1005.85 L92.26 1004.6 L93.77 1003.32 L95.29 1002.02 L96.81 1000.69 L98.33 999.35 L99.84 998 L101.36 996.64 L102.88 995.28 L104.4 993.91 L105.91 992.55 L107.43 991.18 L108.95 989.83 L110.47 988.48 L111.98 987.13 L113.5 985.79 L115.02 984.46 L116.54 983.14 L118.05 981.83 L119.57 980.53 L121.09 979.24 L122.61 977.97 L124.12 976.7 L125.64 975.44 L127.16 974.19 L128.68 972.96 L130.19 971.74 L131.71 970.52 L133.23 969.32 L134.75 968.13 L136.26 966.96 L137.78 965.79 L139.3 964.63 L140.81 963.49 L142.33 962.36 L143.85 961.23 L145.37 960.12 L146.88 959.02 L148.4 957.93 L149.92 956.85 L151.44 955.78 L152.95 954.72 L154.47 953.68 L155.99 952.64 L157.51 951.61 L159.02 950.59 L160.54 949.59 L162.06 948.59 L163.58 947.6 L165.09 946.62 L166.61 945.66 L168.13 944.7 L169.65 943.75 L171.16 942.81 L172.68 941.88 L174.2 940.96 L175.72 940.05 L177.23 939.14 L178.75 938.25 L180.27 937.36 L181.79 936.49 L183.3 935.62 L184.82 934.76 L186.34 933.91 L187.86 933.07 L189.37 932.23 L190.89 931.41 L192.41 930.59 L193.93 929.78 L195.44 928.98 L196.96 928.18 L198.48 927.4 L199.99 926.62 L201.51 925.85 L203.03 925.08 L204.55 924.33 L206.06 923.58 L207.58 922.84 L209.1 922.11 L210.62 921.38 L212.13 920.66 L213.65 919.95 L215.17 919.25 L216.69 918.55 L218.2 917.86 L219.72 917.17 L221.24 916.5 L222.76 915.83 L224.27 915.16 L225.79 914.5 L227.31 913.85 L228.83 913.21 L230.34 912.57 L231.86 911.94 L233.38 911.31 L234.9 910.69 L236.41 910.08 L237.93 909.47 L239.45 908.87 L240.97 908.28 L242.48 907.69 L244 907.1 L245.52 906.53 L247.04 905.95 L248.55 905.39 L250.07 904.83 L251.59 904.27 L253.1 903.72 L254.62 903.18 L256.14 902.64 L257.66 902.11 L259.17 901.58 L260.69 901.05 L262.21 900.54 L263.73 900.02 L265.24 899.52 L266.76 899.01 L268.28 898.51 L269.8 898.02 L271.31 897.53 L272.83 897.05 L274.35 896.57 L275.87 896.1 L277.38 895.63 L278.9 895.16 L280.42 894.7 L281.94 894.25 L283.45 893.8 L284.97 893.35 L286.49 892.91 L288.01 892.47 L289.52 892.04 L291.04 891.61 L292.56 891.19 L294.08 890.76 L295.59 890.35 L297.11 889.94 L298.63 889.53 L300.15 889.12 L301.66 888.72 L303.18 888.33 L304.7 887.94 L306.22 887.55 L307.73 887.16 L309.25 886.78 L310.77 886.4 L312.28 886.03 L313.8 885.66 L315.32 885.3 L316.84 884.93 L318.35 884.57 L319.87 884.22 L321.39 883.87" fill="none" stroke="#000" stroke-width="1.7" stroke-linejoin="round"/>
<path d="M78.6 1009.3L83.1 1017.3L74.1 1017.3Z" fill="#008000"/>
<path d="M81.07 1008.48L85.57 1016.48L76.57 1016.48Z" fill="#008000"/>
<path d="M83.84 1007.65L88.34 1015.65L79.34 1015.65Z" fill="#008000"/>
<path d="M88.78 1005.18L93.28 1013.18L84.28 1013.18Z" fill="#008000"/>
<path d="M94.02 1002.71L98.52 1010.71L89.52 1010.71Z" fill="#008000"/>
<path d="M109.45 992.34L113.95 1000.34L104.95 1000.34Z" fill="#008000"/>
<path d="M140.3 961.21L144.8 969.21L135.8 969.21Z" fill="#008000"/>
<path d="M171.15 943.26L175.65 951.26L166.65 951.26Z" fill="#008000"/>
<path d="M202 922.01L206.5 930.01L197.5 930.01Z" fill="#008000"/>
<path d="M232.85 908.01L237.35 916.01L228.35 916.01Z" fill="#008000"/>
<path d="M263.7 892.03L268.2 900.03L259.2 900.03Z" fill="#008000"/>
<path d="M294.55 885.12L299.05 893.12L290.05 893.12Z" fill="#008000"/>
<path d="M325.4 873.09L329.9 881.09L320.9 881.09Z" fill="#008000"/>
<path d="M74.1 1008.81L83.1 1008.81L78.6 1016.81Z" fill="#F9A03F"/>
<path d="M76.57 1001.23L85.57 1001.23L81.07 1009.23Z" fill="#F9A03F"/>
<path d="M79.34 996.29L88.34 996.29L83.84 1004.29Z" fill="#F9A03F"/>
<path d="M84.28 990.19L93.28 990.19L88.78 998.19Z" fill="#F9A03F"/>
<path d="M89.52 984.1L98.52 984.1L94.02 992.1Z" fill="#F9A03F"/>
<path d="M104.95 979.82L113.95 979.82L109.45 987.82Z" fill="#F9A03F"/>
<path d="M135.8 986.24L144.8 986.24L140.3 994.24Z" fill="#F9A03F"/>
<path d="M166.65 1004.36L175.65 1004.36L171.15 1012.36Z" fill="#F9A03F"/>
<path d="M197.5 993.32L206.5 993.32L202 1001.32Z" fill="#F9A03F"/>
<path d="M228.35 999.25L237.35 999.25L232.85 1007.25Z" fill="#F9A03F"/>
<path d="M259.2 1003.37L268.2 1003.37L263.7 1011.37Z" fill="#F9A03F"/>
<path d="M290.05 1006.01L299.05 1006.01L294.55 1014.01Z" fill="#F9A03F"/>
<path d="M320.9 1007.32L329.9 1007.32L325.4 1015.32Z" fill="#F9A03F"/>
<circle cx="78.6" cy="848.6" r="4.2" fill="#B00000"/>
<circle cx="81.07" cy="858.98" r="4.2" fill="#B00000"/>
<circle cx="83.84" cy="864.08" r="4.2" fill="#B00000"/>
<circle cx="88.78" cy="872.15" r="4.2" fill="#B00000"/>
<circle cx="94.02" cy="880.06" r="4.2" fill="#B00000"/>
<circle cx="109.45" cy="896.36" r="4.2" fill="#B00000"/>
<circle cx="140.3" cy="920.24" r="4.2" fill="#B00000"/>
<circle cx="171.15" cy="920.24" r="4.2" fill="#B00000"/>
<circle cx="202" cy="953.18" r="4.2" fill="#B00000"/>
<circle cx="232.85" cy="960.6" r="4.2" fill="#B00000"/>
<circle cx="263.7" cy="972.62" r="4.2" fill="#B00000"/>
<circle cx="294.55" cy="977.23" r="4.2" fill="#B00000"/>
<circle cx="325.4" cy="988.27" r="4.2" fill="#B00000"/>
<rect x="420" y="30.3" width="15" height="167.7" fill="#CC0000"/>
<rect x="517.45" y="30.3" width="15" height="167.7" fill="#CC0000"/>
<rect x="536.94" y="30.3" width="15" height="167.7" fill="#CC0000"/>
<rect x="556.43" y="30.3" width="15" height="167.7" fill="#CC0000"/>
<rect x="614.9" y="30.3" width="15" height="167.7" fill="#CC0000"/>
<rect x="653.88" y="30.3" width="15" height="167.7" fill="#CC0000"/>
<line x1="418" y1="29.3" x2="418" y2="199" stroke="#000" stroke-width="2"/>
<line x1="414.8" y1="198" x2="418" y2="198" stroke="#000" stroke-width="1.8"/>
<text transform="translate(412.1 201.4) scale(1 1.06)" font-size="9.9" font-weight="normal" text-anchor="end" fill="#111" stroke="#111" stroke-width="0.5">0</text>
<line x1="414.8" y1="114.15" x2="418" y2="114.15" stroke="#000" stroke-width="1.8"/>
<text transform="translate(412.1 117.55) scale(1 1.06)" font-size="9.9" font-weight="normal" text-anchor="end" fill="#111" stroke="#111" stroke-width="0.5">50</text>
<line x1="414.8" y1="30.3" x2="418" y2="30.3" stroke="#000" stroke-width="1.8"/>
<text transform="translate(412.1 33.7) scale(1 1.06)" font-size="9.9" font-weight="normal" text-anchor="end" fill="#111" stroke="#111" stroke-width="0.5">100</text>
<line x1="417" y1="198" x2="671.5" y2="198" stroke="#000" stroke-width="2"/>
<line x1="427.5" y1="198" x2="427.5" y2="202" stroke="#000" stroke-width="1.8"/>
<text transform="translate(430.7 210.4) rotate(-45) scale(1 1.08)" font-size="10.2" font-weight="normal" text-anchor="end" fill="#fff" stroke="#5e5e5e" stroke-width="0.5">0.00</text>
<line x1="446.99" y1="198" x2="446.99" y2="202" stroke="#000" stroke-width="1.8"/>
<text transform="translate(450.19 210.4) rotate(-45) scale(1 1.08)" font-size="10.2" font-weight="normal" text-anchor="end" fill="#fff" stroke="#5e5e5e" stroke-width="0.5">0.08</text>
<line x1="466.48" y1="198" x2="466.48" y2="202" stroke="#000" stroke-width="1.8"/>
<text transform="translate(469.68 210.4) rotate(-45) scale(1 1.08)" font-size="10.2" font-weight="normal" text-anchor="end" fill="#fff" stroke="#5e5e5e" stroke-width="0.5">0.17</text>
<line x1="485.97" y1="198" x2="485.97" y2="202" stroke="#000" stroke-width="1.8"/>
<text transform="translate(489.17 210.4) rotate(-45) scale(1 1.08)" font-size="10.2" font-weight="normal" text-anchor="end" fill="#fff" stroke="#5e5e5e" stroke-width="0.5">0.33</text>
<line x1="505.46" y1="198" x2="505.46" y2="202" stroke="#000" stroke-width="1.8"/>
<text transform="translate(508.66 210.4) rotate(-45) scale(1 1.08)" font-size="10.2" font-weight="normal" text-anchor="end" fill="#fff" stroke="#5e5e5e" stroke-width="0.5">0.50</text>
<line x1="524.95" y1="198" x2="524.95" y2="202" stroke="#000" stroke-width="1.8"/>
<text transform="translate(528.15 210.4) rotate(-45) scale(1 1.08)" font-size="10.2" font-weight="normal" text-anchor="end" fill="#fff" stroke="#5e5e5e" stroke-width="0.5">1.00</text>
<line x1="544.44" y1="198" x2="544.44" y2="202" stroke="#000" stroke-width="1.8"/>
<text transform="translate(547.64 210.4) rotate(-45) scale(1 1.08)" font-size="10.2" font-weight="normal" text-anchor="end" fill="#fff" stroke="#5e5e5e" stroke-width="0.5">2.00</text>
<line x1="563.93" y1="198" x2="563.93" y2="202" stroke="#000" stroke-width="1.8"/>
<text transform="translate(567.13 210.4) rotate(-45) scale(1 1.08)" font-size="10.2" font-weight="normal" text-anchor="end" fill="#fff" stroke="#5e5e5e" stroke-width="0.5">3.00</text>
<line x1="583.42" y1="198" x2="583.42" y2="202" stroke="#000" stroke-width="1.8"/>
<text transform="translate(586.62 210.4) rotate(-45) scale(1 1.08)" font-size="10.2" font-weight="normal" text-anchor="end" fill="#fff" stroke="#5e5e5e" stroke-width="0.5">4.00</text>
<line x1="602.91" y1="198" x2="602.91" y2="202" stroke="#000" stroke-width="1.8"/>
<text transform="translate(606.11 210.4) rotate(-45) scale(1 1.08)" font-size="10.2" font-weight="normal" text-anchor="end" fill="#fff" stroke="#5e5e5e" stroke-width="0.5">5.00</text>
<line x1="622.4" y1="198" x2="622.4" y2="202" stroke="#000" stroke-width="1.8"/>
<text transform="translate(625.6 210.4) rotate(-45) scale(1 1.08)" font-size="10.2" font-weight="normal" text-anchor="end" fill="#fff" stroke="#5e5e5e" stroke-width="0.5">6.00</text>
<line x1="641.89" y1="198" x2="641.89" y2="202" stroke="#000" stroke-width="1.8"/>
<text transform="translate(645.09 210.4) rotate(-45) scale(1 1.08)" font-size="10.2" font-weight="normal" text-anchor="end" fill="#fff" stroke="#5e5e5e" stroke-width="0.5">7.00</text>
<line x1="661.38" y1="198" x2="661.38" y2="202" stroke="#000" stroke-width="1.8"/>
<text transform="translate(664.58 210.4) rotate(-45) scale(1 1.08)" font-size="10.2" font-weight="normal" text-anchor="end" fill="#fff" stroke="#5e5e5e" stroke-width="0.5">8.00</text>
<text transform="translate(544.2 243.7) scale(1.0 1.07)" font-size="13.4" font-weight="bold" text-anchor="middle" fill="#000" stroke="#000" stroke-width="0.2">Time (hr)</text>
<text transform="translate(388.2 113.95) rotate(-90) scale(1.014 1.03)" font-size="13" font-weight="bold" text-anchor="middle" fill="#000" stroke="#000" stroke-width="0.3">Percentage (%)</text>
<rect x="420" y="307" width="15" height="168.5" fill="#CC0000"/>
<rect x="439.44" y="307" width="15" height="1.01" fill="#008000"/>
<rect x="439.44" y="308.01" width="15" height="5.06" fill="#FFC000"/>
<rect x="439.44" y="313.07" width="15" height="162.43" fill="#CC0000"/>
<rect x="458.88" y="307" width="15" height="1.01" fill="#008000"/>
<rect x="458.88" y="308.01" width="15" height="9.44" fill="#FFC000"/>
<rect x="458.88" y="317.45" width="15" height="158.05" fill="#CC0000"/>
<rect x="478.32" y="307" width="15" height="2.02" fill="#008000"/>
<rect x="478.32" y="309.02" width="15" height="13.65" fill="#FFC000"/>
<rect x="478.32" y="322.67" width="15" height="152.83" fill="#CC0000"/>
<rect x="497.76" y="307" width="15" height="2.53" fill="#008000"/>
<rect x="497.76" y="309.53" width="15" height="15.5" fill="#FFC000"/>
<rect x="497.76" y="325.03" width="15" height="150.47" fill="#CC0000"/>
<rect x="517.2" y="307" width="15" height="7.41" fill="#008000"/>
<rect x="517.2" y="314.41" width="15" height="15.67" fill="#FFC000"/>
<rect x="517.2" y="330.08" width="15" height="145.42" fill="#CC0000"/>
<rect x="536.64" y="307" width="15" height="14.66" fill="#008000"/>
<rect x="536.64" y="321.66" width="15" height="15" fill="#FFC000"/>
<rect x="536.64" y="336.66" width="15" height="138.84" fill="#CC0000"/>
<rect x="556.08" y="307" width="15" height="20.05" fill="#008000"/>
<rect x="556.08" y="327.05" width="15" height="15" fill="#FFC000"/>
<rect x="556.08" y="342.05" width="15" height="133.45" fill="#CC0000"/>
<rect x="575.52" y="307" width="15" height="31.68" fill="#008000"/>
<rect x="575.52" y="338.68" width="15" height="10.45" fill="#FFC000"/>
<rect x="575.52" y="349.12" width="15" height="126.38" fill="#CC0000"/>
<rect x="594.96" y="307" width="15" height="34.04" fill="#008000"/>
<rect x="594.96" y="341.04" width="15" height="14.66" fill="#FFC000"/>
<rect x="594.96" y="355.7" width="15" height="119.8" fill="#CC0000"/>
<rect x="614.4" y="307" width="15" height="47.01" fill="#008000"/>
<rect x="614.4" y="354.01" width="15" height="7.25" fill="#FFC000"/>
<rect x="614.4" y="361.26" width="15" height="114.24" fill="#CC0000"/>
<rect x="633.84" y="307" width="15" height="48.87" fill="#008000"/>
<rect x="633.84" y="355.87" width="15" height="9.6" fill="#FFC000"/>
<rect x="633.84" y="365.47" width="15" height="110.03" fill="#CC0000"/>
<rect x="653.28" y="307" width="15" height="61.5" fill="#008000"/>
<rect x="653.28" y="368.5" width="15" height="4.72" fill="#FFC000"/>
<rect x="653.28" y="373.22" width="15" height="102.28" fill="#CC0000"/>
<line x1="417" y1="306" x2="417" y2="476.5" stroke="#000" stroke-width="2"/>
<line x1="413.8" y1="475.5" x2="417" y2="475.5" stroke="#000" stroke-width="1.8"/>
<text transform="translate(411.1 478.9) scale(1 1.06)" font-size="9.9" font-weight="normal" text-anchor="end" fill="#111" stroke="#111" stroke-width="0.5">0</text>
<line x1="413.8" y1="391.25" x2="417" y2="391.25" stroke="#000" stroke-width="1.8"/>
<text transform="translate(411.1 394.65) scale(1 1.06)" font-size="9.9" font-weight="normal" text-anchor="end" fill="#111" stroke="#111" stroke-width="0.5">50</text>
<line x1="413.8" y1="307" x2="417" y2="307" stroke="#000" stroke-width="1.8"/>
<text transform="translate(411.1 310.4) scale(1 1.06)" font-size="9.9" font-weight="normal" text-anchor="end" fill="#111" stroke="#111" stroke-width="0.5">100</text>
<line x1="416" y1="475.5" x2="671.5" y2="475.5" stroke="#000" stroke-width="2"/>
<line x1="427.5" y1="475.5" x2="427.5" y2="479.5" stroke="#000" stroke-width="1.8"/>
<text transform="translate(430.7 487.9) rotate(-45) scale(1 1.08)" font-size="10.2" font-weight="normal" text-anchor="end" fill="#fff" stroke="#5e5e5e" stroke-width="0.5">0.00</text>
<line x1="446.94" y1="475.5" x2="446.94" y2="479.5" stroke="#000" stroke-width="1.8"/>
<text transform="translate(450.14 487.9) rotate(-45) scale(1 1.08)" font-size="10.2" font-weight="normal" text-anchor="end" fill="#fff" stroke="#5e5e5e" stroke-width="0.5">0.08</text>
<line x1="466.38" y1="475.5" x2="466.38" y2="479.5" stroke="#000" stroke-width="1.8"/>
<text transform="translate(469.58 487.9) rotate(-45) scale(1 1.08)" font-size="10.2" font-weight="normal" text-anchor="end" fill="#fff" stroke="#5e5e5e" stroke-width="0.5">0.17</text>
<line x1="485.82" y1="475.5" x2="485.82" y2="479.5" stroke="#000" stroke-width="1.8"/>
<text transform="translate(489.02 487.9) rotate(-45) scale(1 1.08)" font-size="10.2" font-weight="normal" text-anchor="end" fill="#fff" stroke="#5e5e5e" stroke-width="0.5">0.33</text>
<line x1="505.26" y1="475.5" x2="505.26" y2="479.5" stroke="#000" stroke-width="1.8"/>
<text transform="translate(508.46 487.9) rotate(-45) scale(1 1.08)" font-size="10.2" font-weight="normal" text-anchor="end" fill="#fff" stroke="#5e5e5e" stroke-width="0.5">0.50</text>
<line x1="524.7" y1="475.5" x2="524.7" y2="479.5" stroke="#000" stroke-width="1.8"/>
<text transform="translate(527.9 487.9) rotate(-45) scale(1 1.08)" font-size="10.2" font-weight="normal" text-anchor="end" fill="#fff" stroke="#5e5e5e" stroke-width="0.5">1.00</text>
<line x1="544.14" y1="475.5" x2="544.14" y2="479.5" stroke="#000" stroke-width="1.8"/>
<text transform="translate(547.34 487.9) rotate(-45) scale(1 1.08)" font-size="10.2" font-weight="normal" text-anchor="end" fill="#fff" stroke="#5e5e5e" stroke-width="0.5">2.00</text>
<line x1="563.58" y1="475.5" x2="563.58" y2="479.5" stroke="#000" stroke-width="1.8"/>
<text transform="translate(566.78 487.9) rotate(-45) scale(1 1.08)" font-size="10.2" font-weight="normal" text-anchor="end" fill="#fff" stroke="#5e5e5e" stroke-width="0.5">3.00</text>
<line x1="583.02" y1="475.5" x2="583.02" y2="479.5" stroke="#000" stroke-width="1.8"/>
<text transform="translate(586.22 487.9) rotate(-45) scale(1 1.08)" font-size="10.2" font-weight="normal" text-anchor="end" fill="#fff" stroke="#5e5e5e" stroke-width="0.5">4.00</text>
<line x1="602.46" y1="475.5" x2="602.46" y2="479.5" stroke="#000" stroke-width="1.8"/>
<text transform="translate(605.66 487.9) rotate(-45) scale(1 1.08)" font-size="10.2" font-weight="normal" text-anchor="end" fill="#fff" stroke="#5e5e5e" stroke-width="0.5">5.00</text>
<line x1="621.9" y1="475.5" x2="621.9" y2="479.5" stroke="#000" stroke-width="1.8"/>
<text transform="translate(625.1 487.9) rotate(-45) scale(1 1.08)" font-size="10.2" font-weight="normal" text-anchor="end" fill="#fff" stroke="#5e5e5e" stroke-width="0.5">6.00</text>
<line x1="641.34" y1="475.5" x2="641.34" y2="479.5" stroke="#000" stroke-width="1.8"/>
<text transform="translate(644.54 487.9) rotate(-45) scale(1 1.08)" font-size="10.2" font-weight="normal" text-anchor="end" fill="#fff" stroke="#5e5e5e" stroke-width="0.5">7.00</text>
<line x1="660.78" y1="475.5" x2="660.78" y2="479.5" stroke="#000" stroke-width="1.8"/>
<text transform="translate(663.98 487.9) rotate(-45) scale(1 1.08)" font-size="10.2" font-weight="normal" text-anchor="end" fill="#fff" stroke="#5e5e5e" stroke-width="0.5">8.00</text>
<text transform="translate(544.2 521.2) scale(1.0 1.07)" font-size="13.4" font-weight="bold" text-anchor="middle" fill="#000" stroke="#000" stroke-width="0.2">Time (hr)</text>
<text transform="translate(387.2 391.05) rotate(-90) scale(1.014 1.03)" font-size="13" font-weight="bold" text-anchor="middle" fill="#000" stroke="#000" stroke-width="0.3">Percentage (%)</text>
<rect x="419.3" y="588.6" width="15" height="168" fill="#CC0000"/>
<rect x="438.56" y="588.6" width="15" height="5.04" fill="#008000"/>
<rect x="438.56" y="593.64" width="15" height="4.03" fill="#FFC000"/>
<rect x="438.56" y="597.67" width="15" height="158.93" fill="#CC0000"/>
<rect x="457.82" y="588.6" width="15" height="1.01" fill="#008000"/>
<rect x="457.82" y="589.61" width="15" height="21" fill="#FFC000"/>
<rect x="457.82" y="610.61" width="15" height="145.99" fill="#CC0000"/>
<rect x="477.08" y="588.6" width="15" height="5.04" fill="#008000"/>
<rect x="477.08" y="593.64" width="15" height="28.73" fill="#FFC000"/>
<rect x="477.08" y="622.37" width="15" height="134.23" fill="#CC0000"/>
<rect x="496.34" y="588.6" width="15" height="18.48" fill="#008000"/>
<rect x="496.34" y="607.08" width="15" height="12.94" fill="#FFC000"/>
<rect x="496.34" y="620.02" width="15" height="136.58" fill="#CC0000"/>
<rect x="515.6" y="588.6" width="15" height="32.42" fill="#008000"/>
<rect x="515.6" y="621.02" width="15" height="30.91" fill="#FFC000"/>
<rect x="515.6" y="651.94" width="15" height="104.66" fill="#CC0000"/>
<rect x="534.86" y="588.6" width="15" height="79.3" fill="#008000"/>
<rect x="534.86" y="667.9" width="15" height="13.94" fill="#FFC000"/>
<rect x="534.86" y="681.84" width="15" height="74.76" fill="#CC0000"/>
<rect x="554.12" y="588.6" width="15" height="93.24" fill="#008000"/>
<rect x="554.12" y="681.84" width="15" height="2.02" fill="#FFC000"/>
<rect x="554.12" y="683.86" width="15" height="72.74" fill="#CC0000"/>
<rect x="573.38" y="588.6" width="15" height="124.99" fill="#008000"/>
<rect x="573.38" y="713.59" width="15" height="5.71" fill="#FFC000"/>
<rect x="573.38" y="719.3" width="15" height="37.3" fill="#CC0000"/>
<rect x="592.64" y="588.6" width="15" height="133.56" fill="#008000"/>
<rect x="592.64" y="722.16" width="15" height="34.44" fill="#CC0000"/>
<rect x="611.9" y="588.6" width="15" height="144.14" fill="#008000"/>
<rect x="611.9" y="732.74" width="15" height="23.86" fill="#CC0000"/>
<rect x="631.16" y="588.6" width="15" height="147.34" fill="#008000"/>
<rect x="631.16" y="735.94" width="15" height="20.66" fill="#CC0000"/>
<rect x="650.42" y="588.6" width="15" height="155.06" fill="#008000"/>
<rect x="650.42" y="743.66" width="15" height="12.94" fill="#CC0000"/>
<line x1="417" y1="587.6" x2="417" y2="757.6" stroke="#000" stroke-width="2"/>
<line x1="413.8" y1="756.6" x2="417" y2="756.6" stroke="#000" stroke-width="1.8"/>
<text transform="translate(411.1 760) scale(1 1.06)" font-size="9.9" font-weight="normal" text-anchor="end" fill="#111" stroke="#111" stroke-width="0.5">0</text>
<line x1="413.8" y1="672.6" x2="417" y2="672.6" stroke="#000" stroke-width="1.8"/>
<text transform="translate(411.1 676) scale(1 1.06)" font-size="9.9" font-weight="normal" text-anchor="end" fill="#111" stroke="#111" stroke-width="0.5">50</text>
<line x1="413.8" y1="588.6" x2="417" y2="588.6" stroke="#000" stroke-width="1.8"/>
<text transform="translate(411.1 592) scale(1 1.06)" font-size="9.9" font-weight="normal" text-anchor="end" fill="#111" stroke="#111" stroke-width="0.5">100</text>
<line x1="416" y1="756.6" x2="669" y2="756.6" stroke="#000" stroke-width="2"/>
<line x1="426.8" y1="756.6" x2="426.8" y2="760.6" stroke="#000" stroke-width="1.8"/>
<text transform="translate(430 769) rotate(-45) scale(1 1.08)" font-size="10.2" font-weight="normal" text-anchor="end" fill="#fff" stroke="#5e5e5e" stroke-width="0.5">0.00</text>
<line x1="446.06" y1="756.6" x2="446.06" y2="760.6" stroke="#000" stroke-width="1.8"/>
<text transform="translate(449.26 769) rotate(-45) scale(1 1.08)" font-size="10.2" font-weight="normal" text-anchor="end" fill="#fff" stroke="#5e5e5e" stroke-width="0.5">0.08</text>
<line x1="465.32" y1="756.6" x2="465.32" y2="760.6" stroke="#000" stroke-width="1.8"/>
<text transform="translate(468.52 769) rotate(-45) scale(1 1.08)" font-size="10.2" font-weight="normal" text-anchor="end" fill="#fff" stroke="#5e5e5e" stroke-width="0.5">0.17</text>
<line x1="484.58" y1="756.6" x2="484.58" y2="760.6" stroke="#000" stroke-width="1.8"/>
<text transform="translate(487.78 769) rotate(-45) scale(1 1.08)" font-size="10.2" font-weight="normal" text-anchor="end" fill="#fff" stroke="#5e5e5e" stroke-width="0.5">0.33</text>
<line x1="503.84" y1="756.6" x2="503.84" y2="760.6" stroke="#000" stroke-width="1.8"/>
<text transform="translate(507.04 769) rotate(-45) scale(1 1.08)" font-size="10.2" font-weight="normal" text-anchor="end" fill="#fff" stroke="#5e5e5e" stroke-width="0.5">0.50</text>
<line x1="523.1" y1="756.6" x2="523.1" y2="760.6" stroke="#000" stroke-width="1.8"/>
<text transform="translate(526.3 769) rotate(-45) scale(1 1.08)" font-size="10.2" font-weight="normal" text-anchor="end" fill="#fff" stroke="#5e5e5e" stroke-width="0.5">1.00</text>
<line x1="542.36" y1="756.6" x2="542.36" y2="760.6" stroke="#000" stroke-width="1.8"/>
<text transform="translate(545.56 769) rotate(-45) scale(1 1.08)" font-size="10.2" font-weight="normal" text-anchor="end" fill="#fff" stroke="#5e5e5e" stroke-width="0.5">2.00</text>
<line x1="561.62" y1="756.6" x2="561.62" y2="760.6" stroke="#000" stroke-width="1.8"/>
<text transform="translate(564.82 769) rotate(-45) scale(1 1.08)" font-size="10.2" font-weight="normal" text-anchor="end" fill="#fff" stroke="#5e5e5e" stroke-width="0.5">3.00</text>
<line x1="580.88" y1="756.6" x2="580.88" y2="760.6" stroke="#000" stroke-width="1.8"/>
<text transform="translate(584.08 769) rotate(-45) scale(1 1.08)" font-size="10.2" font-weight="normal" text-anchor="end" fill="#fff" stroke="#5e5e5e" stroke-width="0.5">4.00</text>
<line x1="600.14" y1="756.6" x2="600.14" y2="760.6" stroke="#000" stroke-width="1.8"/>
<text transform="translate(603.34 769) rotate(-45) scale(1 1.08)" font-size="10.2" font-weight="normal" text-anchor="end" fill="#fff" stroke="#5e5e5e" stroke-width="0.5">5.00</text>
<line x1="619.4" y1="756.6" x2="619.4" y2="760.6" stroke="#000" stroke-width="1.8"/>
<text transform="translate(622.6 769) rotate(-45) scale(1 1.08)" font-size="10.2" font-weight="normal" text-anchor="end" fill="#fff" stroke="#5e5e5e" stroke-width="0.5">6.00</text>
<line x1="638.66" y1="756.6" x2="638.66" y2="760.6" stroke="#000" stroke-width="1.8"/>
<text transform="translate(641.86 769) rotate(-45) scale(1 1.08)" font-size="10.2" font-weight="normal" text-anchor="end" fill="#fff" stroke="#5e5e5e" stroke-width="0.5">7.00</text>
<line x1="657.92" y1="756.6" x2="657.92" y2="760.6" stroke="#000" stroke-width="1.8"/>
<text transform="translate(661.12 769) rotate(-45) scale(1 1.08)" font-size="10.2" font-weight="normal" text-anchor="end" fill="#fff" stroke="#5e5e5e" stroke-width="0.5">8.00</text>
<text transform="translate(544.2 802.3) scale(1.0 1.07)" font-size="13.4" font-weight="bold" text-anchor="middle" fill="#000" stroke="#000" stroke-width="0.2">Time (hr)</text>
<text transform="translate(387.2 672.4) rotate(-90) scale(1.014 1.03)" font-size="13" font-weight="bold" text-anchor="middle" fill="#000" stroke="#000" stroke-width="0.3">Percentage (%)</text>
<rect x="422.5" y="847.4" width="15" height="167" fill="#CC0000"/>
<rect x="441.8" y="847.4" width="15" height="1.17" fill="#008000"/>
<rect x="441.8" y="848.57" width="15" height="8.35" fill="#FFC000"/>
<rect x="441.8" y="856.92" width="15" height="157.48" fill="#CC0000"/>
<rect x="461.1" y="847.4" width="15" height="1.17" fill="#008000"/>
<rect x="461.1" y="848.57" width="15" height="13.36" fill="#FFC000"/>
<rect x="461.1" y="861.93" width="15" height="152.47" fill="#CC0000"/>
<rect x="480.4" y="847.4" width="15" height="3.34" fill="#008000"/>
<rect x="480.4" y="850.74" width="15" height="18.7" fill="#FFC000"/>
<rect x="480.4" y="869.44" width="15" height="144.96" fill="#CC0000"/>
<rect x="499.7" y="847.4" width="15" height="6.18" fill="#008000"/>
<rect x="499.7" y="853.58" width="15" height="24.38" fill="#FFC000"/>
<rect x="499.7" y="877.96" width="15" height="136.44" fill="#CC0000"/>
<rect x="519" y="847.4" width="15" height="16.87" fill="#008000"/>
<rect x="519" y="864.27" width="15" height="29.39" fill="#FFC000"/>
<rect x="519" y="893.66" width="15" height="120.74" fill="#CC0000"/>
<rect x="538.3" y="847.4" width="15" height="47.43" fill="#008000"/>
<rect x="538.3" y="894.83" width="15" height="23.21" fill="#FFC000"/>
<rect x="538.3" y="918.04" width="15" height="96.36" fill="#CC0000"/>
<rect x="557.6" y="847.4" width="15" height="66.47" fill="#008000"/>
<rect x="557.6" y="913.87" width="15" height="4.68" fill="#FFC000"/>
<rect x="557.6" y="918.54" width="15" height="95.86" fill="#CC0000"/>
<rect x="576.9" y="847.4" width="15" height="87.67" fill="#008000"/>
<rect x="576.9" y="935.07" width="15" height="15.87" fill="#FFC000"/>
<rect x="576.9" y="950.94" width="15" height="63.46" fill="#CC0000"/>
<rect x="596.2" y="847.4" width="15" height="101.2" fill="#008000"/>
<rect x="596.2" y="948.6" width="15" height="9.69" fill="#FFC000"/>
<rect x="596.2" y="958.29" width="15" height="56.11" fill="#CC0000"/>
<rect x="615.5" y="847.4" width="15" height="118.07" fill="#008000"/>
<rect x="615.5" y="965.47" width="15" height="6.18" fill="#FFC000"/>
<rect x="615.5" y="971.65" width="15" height="42.75" fill="#CC0000"/>
<rect x="634.8" y="847.4" width="15" height="125.08" fill="#008000"/>
<rect x="634.8" y="972.48" width="15" height="3.34" fill="#FFC000"/>
<rect x="634.8" y="975.82" width="15" height="38.58" fill="#CC0000"/>
<rect x="654.1" y="847.4" width="15" height="137.94" fill="#008000"/>
<rect x="654.1" y="985.34" width="15" height="1.17" fill="#FFC000"/>
<rect x="654.1" y="986.51" width="15" height="27.89" fill="#CC0000"/>
<line x1="420.3" y1="846.4" x2="420.3" y2="1015.4" stroke="#000" stroke-width="2"/>
<line x1="417.1" y1="1014.4" x2="420.3" y2="1014.4" stroke="#000" stroke-width="1.8"/>
<text transform="translate(414.4 1017.8) scale(1 1.06)" font-size="9.9" font-weight="normal" text-anchor="end" fill="#111" stroke="#111" stroke-width="0.5">0</text>
<line x1="417.1" y1="930.9" x2="420.3" y2="930.9" stroke="#000" stroke-width="1.8"/>
<text transform="translate(414.4 934.3) scale(1 1.06)" font-size="9.9" font-weight="normal" text-anchor="end" fill="#111" stroke="#111" stroke-width="0.5">50</text>
<line x1="417.1" y1="847.4" x2="420.3" y2="847.4" stroke="#000" stroke-width="1.8"/>
<text transform="translate(414.4 850.8) scale(1 1.06)" font-size="9.9" font-weight="normal" text-anchor="end" fill="#111" stroke="#111" stroke-width="0.5">100</text>
<line x1="419.3" y1="1014.4" x2="671.5" y2="1014.4" stroke="#000" stroke-width="2"/>
<line x1="430" y1="1014.4" x2="430" y2="1018.4" stroke="#000" stroke-width="1.8"/>
<text transform="translate(433.2 1026.8) rotate(-45) scale(1 1.08)" font-size="10.2" font-weight="normal" text-anchor="end" fill="#fff" stroke="#5e5e5e" stroke-width="0.5">0.00</text>
<line x1="449.3" y1="1014.4" x2="449.3" y2="1018.4" stroke="#000" stroke-width="1.8"/>
<text transform="translate(452.5 1026.8) rotate(-45) scale(1 1.08)" font-size="10.2" font-weight="normal" text-anchor="end" fill="#fff" stroke="#5e5e5e" stroke-width="0.5">0.08</text>
<line x1="468.6" y1="1014.4" x2="468.6" y2="1018.4" stroke="#000" stroke-width="1.8"/>
<text transform="translate(471.8 1026.8) rotate(-45) scale(1 1.08)" font-size="10.2" font-weight="normal" text-anchor="end" fill="#fff" stroke="#5e5e5e" stroke-width="0.5">0.17</text>
<line x1="487.9" y1="1014.4" x2="487.9" y2="1018.4" stroke="#000" stroke-width="1.8"/>
<text transform="translate(491.1 1026.8) rotate(-45) scale(1 1.08)" font-size="10.2" font-weight="normal" text-anchor="end" fill="#fff" stroke="#5e5e5e" stroke-width="0.5">0.33</text>
<line x1="507.2" y1="1014.4" x2="507.2" y2="1018.4" stroke="#000" stroke-width="1.8"/>
<text transform="translate(510.4 1026.8) rotate(-45) scale(1 1.08)" font-size="10.2" font-weight="normal" text-anchor="end" fill="#fff" stroke="#5e5e5e" stroke-width="0.5">0.50</text>
<line x1="526.5" y1="1014.4" x2="526.5" y2="1018.4" stroke="#000" stroke-width="1.8"/>
<text transform="translate(529.7 1026.8) rotate(-45) scale(1 1.08)" font-size="10.2" font-weight="normal" text-anchor="end" fill="#fff" stroke="#5e5e5e" stroke-width="0.5">1.00</text>
<line x1="545.8" y1="1014.4" x2="545.8" y2="1018.4" stroke="#000" stroke-width="1.8"/>
<text transform="translate(549 1026.8) rotate(-45) scale(1 1.08)" font-size="10.2" font-weight="normal" text-anchor="end" fill="#fff" stroke="#5e5e5e" stroke-width="0.5">2.00</text>
<line x1="565.1" y1="1014.4" x2="565.1" y2="1018.4" stroke="#000" stroke-width="1.8"/>
<text transform="translate(568.3 1026.8) rotate(-45) scale(1 1.08)" font-size="10.2" font-weight="normal" text-anchor="end" fill="#fff" stroke="#5e5e5e" stroke-width="0.5">3.00</text>
<line x1="584.4" y1="1014.4" x2="584.4" y2="1018.4" stroke="#000" stroke-width="1.8"/>
<text transform="translate(587.6 1026.8) rotate(-45) scale(1 1.08)" font-size="10.2" font-weight="normal" text-anchor="end" fill="#fff" stroke="#5e5e5e" stroke-width="0.5">4.00</text>
<line x1="603.7" y1="1014.4" x2="603.7" y2="1018.4" stroke="#000" stroke-width="1.8"/>
<text transform="translate(606.9 1026.8) rotate(-45) scale(1 1.08)" font-size="10.2" font-weight="normal" text-anchor="end" fill="#fff" stroke="#5e5e5e" stroke-width="0.5">5.00</text>
<line x1="623" y1="1014.4" x2="623" y2="1018.4" stroke="#000" stroke-width="1.8"/>
<text transform="translate(626.2 1026.8) rotate(-45) scale(1 1.08)" font-size="10.2" font-weight="normal" text-anchor="end" fill="#fff" stroke="#5e5e5e" stroke-width="0.5">6.00</text>
<line x1="642.3" y1="1014.4" x2="642.3" y2="1018.4" stroke="#000" stroke-width="1.8"/>
<text transform="translate(645.5 1026.8) rotate(-45) scale(1 1.08)" font-size="10.2" font-weight="normal" text-anchor="end" fill="#fff" stroke="#5e5e5e" stroke-width="0.5">7.00</text>
<line x1="661.6" y1="1014.4" x2="661.6" y2="1018.4" stroke="#000" stroke-width="1.8"/>
<text transform="translate(664.8 1026.8) rotate(-45) scale(1 1.08)" font-size="10.2" font-weight="normal" text-anchor="end" fill="#fff" stroke="#5e5e5e" stroke-width="0.5">8.00</text>
<text transform="translate(545 1060.1) scale(1.0 1.07)" font-size="13.4" font-weight="bold" text-anchor="middle" fill="#000" stroke="#000" stroke-width="0.2">Time (hr)</text>
<text transform="translate(390.5 930.7) rotate(-90) scale(1.014 1.03)" font-size="13" font-weight="bold" text-anchor="middle" fill="#000" stroke="#000" stroke-width="0.3">Percentage (%)</text>
<circle cx="164.2" cy="1083.9" r="4.2" fill="#B00000"/>
<path d="M159.7 1098.9L168.7 1098.9L164.2 1106.9Z" fill="#F9A03F"/>
<path d="M164.2 1119.3L168.7 1127.3L159.7 1127.3Z" fill="#008000"/>
<text transform="translate(183 1087) scale(1 1.1)" font-size="12.8" fill="#111" stroke="#111" stroke-width="0.3" textLength="58.6" lengthAdjust="spacingAndGlyphs">Oxaliplatin</text>
<text transform="translate(183 1106.7) scale(1 1.1)" font-size="12.8" fill="#111" stroke="#111" stroke-width="0.3" textLength="72.6" lengthAdjust="spacingAndGlyphs">Intermediate</text>
<text transform="translate(183 1125.4) scale(1 1.1)" font-size="12.8" fill="#111" stroke="#111" stroke-width="0.3" textLength="77.2" lengthAdjust="spacingAndGlyphs">Pt(DACH)Cl<tspan font-size="9.5" dy="2.6">2</tspan></text>
<rect x="502.1" y="1078" width="19.2" height="11.2" fill="#008000"/>
<rect x="502.1" y="1096.8" width="19.2" height="11.3" fill="#FFC000"/>
<rect x="502.1" y="1115.3" width="19.2" height="11.2" fill="#CC0000"/>
<text transform="translate(528.6 1087.8) scale(1 1.1)" font-size="12.2" fill="#111" stroke="#111" stroke-width="0.3" textLength="72.7" lengthAdjust="spacingAndGlyphs">Pt(DACH)Cl<tspan font-size="9.5" dy="2.6">2</tspan></text>
<text transform="translate(528.6 1106.4) scale(1 1.1)" font-size="12.2" fill="#111" stroke="#111" stroke-width="0.3" textLength="69.2" lengthAdjust="spacingAndGlyphs">Intermediate</text>
<text transform="translate(528.6 1124.2) scale(1 1.1)" font-size="12.2" fill="#111" stroke="#111" stroke-width="0.3" textLength="55.3" lengthAdjust="spacingAndGlyphs">Oxaliplatin</text>
</svg>
</body></html>
